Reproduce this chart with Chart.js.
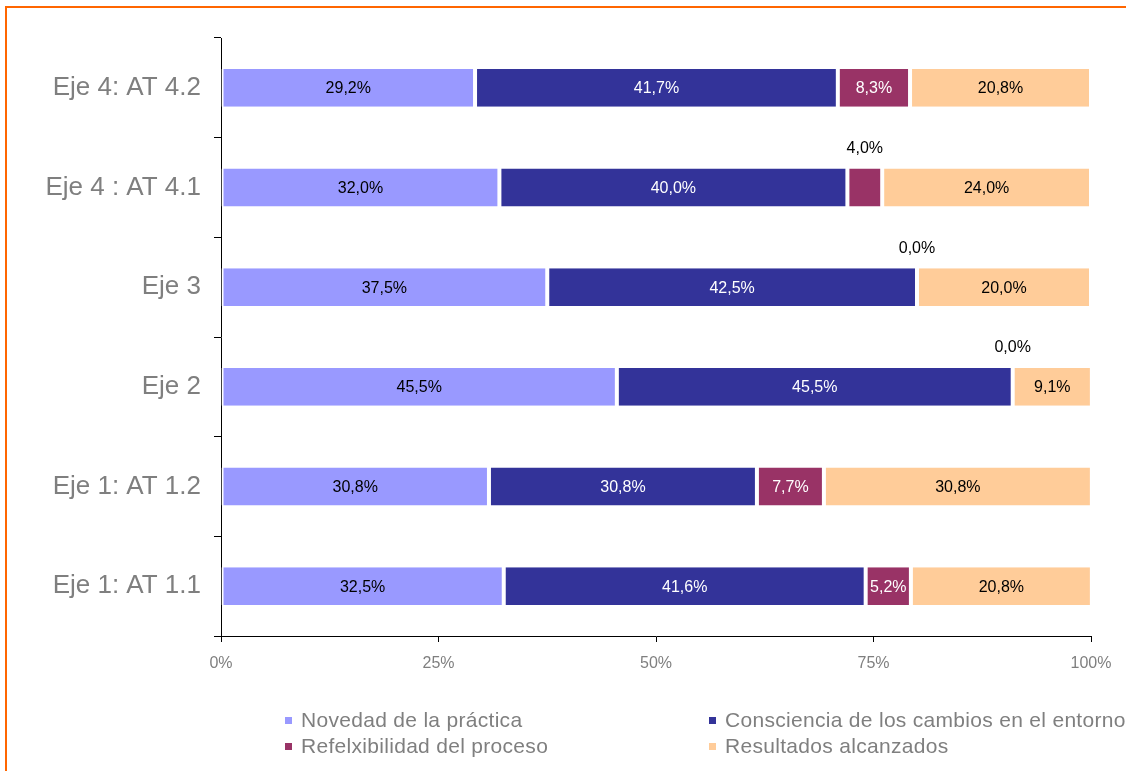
<!DOCTYPE html>
<html>
<head>
<meta charset="utf-8">
<script src="https://cdn.jsdelivr.net/npm/chart.js@4.4.1/dist/chart.umd.min.js"></script>
<style>
    body { margin: 0; background: #fff; font-family: 'Liberation Sans', Arial, sans-serif; }
    #wrap { position: relative; width: 1126px; height: 771px; overflow: hidden; }
    #frame { position: absolute; left: 5px; top: 6px; width: 1200px; height: 800px;
             border-top: 2px solid #ff6600; border-left: 2px solid #ff6600; }
    canvas { position: absolute; left: 0; top: 0; }
    .legend-item { position: absolute; font-size: 21px; letter-spacing: 0.3px; color: #7f7f7f; white-space: nowrap; line-height: 24px; }
    .legend-item span { display: inline-block; width: 7px; height: 7px; margin-right: 9px; vertical-align: 3px; }
</style>
</head>
<body>
<div id="wrap">
    <div id="frame"></div>
    <canvas id="chart" width="1126" height="771"></canvas>
    <div id="legend"></div>
</div>
<script>
const categories = ['Eje 4: AT 4.2', 'Eje 4 : AT 4.1', 'Eje 3', 'Eje 2', 'Eje 1: AT 1.2', 'Eje 1: AT 1.1'];
const seriesNames = ['Novedad de la práctica', 'Consciencia de los cambios en el entorno',
                     'Refelxibilidad del proceso', 'Resultados alcanzados'];
const novedad     = [29.2, 32.0, 37.5, 45.5, 30.8, 32.5];
const consciencia = [41.7, 40.0, 42.5, 45.5, 30.8, 41.6];
const reflexion   = [8.3, 4.0, 0.0, 0.0, 7.7, 5.2];
const resultados  = [20.8, 24.0, 20.0, 9.1, 30.8, 20.8];
const xTicks = [0, 25, 50, 75, 100];

const colors = ['#9999ff', '#333399', '#993366', '#ffcc99'];
const labelColors = ['#000', '#fff', '#fff', '#000'];
const FONT = "'Liberation Sans', Arial, sans-serif";

// etiquetas de porcentaje dentro (o encima) de cada segmento
const valueLabels = {
    id: 'valueLabels',
    afterDatasetsDraw(chart) {
        const ctx = chart.ctx;
        ctx.save();
        ctx.font = '16px ' + FONT;
        ctx.textAlign = 'center';
        ctx.textBaseline = 'middle';
        chart.data.datasets.forEach((ds, i) => {
            const meta = chart.getDatasetMeta(i);
            meta.data.forEach((bar, j) => {
                const p = bar.getProps(['x', 'y', 'base'], true);
                const text = ds.data[j].toFixed(1).replace('.', ',') + '%';
                const w = Math.abs(p.x - p.base);
                const cx = (p.x + p.base) / 2;
                if (w < 40) {
                    ctx.fillStyle = '#000';
                    ctx.fillText(text, cx, p.y - 39);
                } else {
                    ctx.fillStyle = labelColors[i];
                    ctx.fillText(text, cx, p.y + 1);
                }
            });
        });
        ctx.restore();
    }
};

const seriesData = [novedad, consciencia, reflexion, resultados];

new Chart(document.getElementById('chart'), {
    type: 'bar',
    data: {
        labels: categories,
        datasets: seriesData.map((d, i) => ({
            label: seriesNames[i],
            data: d,
            backgroundColor: colors[i],
            borderColor: '#ffffff',
            borderWidth: { left: 2, right: 2, top: 0, bottom: 0 },
            borderSkipped: false,
            barPercentage: 0.38,
            categoryPercentage: 1,
        }))
    },
    options: {
        indexAxis: 'y',
        responsive: false,
        animation: false,
        devicePixelRatio: 1,
        layout: { padding: { top: 38, right: 35, left: 0, bottom: 0 } },
        plugins: {
            legend: { display: false },
            tooltip: { enabled: false }
        },
        scales: {
            x: {
                stacked: true,
                min: 0,
                max: 100,
                afterBuildTicks: (scale) => { scale.ticks = xTicks.map(v => ({ value: v })); },
                afterFit: (scale) => { scale.height = 135; },
                ticks: {
                    callback: (v) => v + '%',
                    color: '#7f7f7f',
                    font: { family: FONT, size: 16 },
                    padding: 12
                },
                grid: { drawOnChartArea: false, tickLength: 6, color: '#000' },
                border: { color: '#000', width: 1 }
            },
            y: {
                stacked: true,
                afterFit: (scale) => { scale.width = 221; },
                ticks: {
                    color: '#7f7f7f',
                    font: { family: FONT, size: 26 },
                    padding: 13
                },
                grid: { offset: true, drawOnChartArea: false, tickLength: 7, color: '#000' },
                border: { color: '#000', width: 1 }
            }
        }
    },
    plugins: [valueLabels]
});

// leyenda en dos columnas
const legendPos = [[285, 708], [709, 708], [285, 734], [709, 734]];
document.getElementById('legend').innerHTML = seriesNames.map((name, i) =>
    `<div class="legend-item" style="left:${legendPos[i][0]}px;top:${legendPos[i][1]}px">
        <span style="background:${colors[i]}"></span>${name}
    </div>`
).join('');
</script>
</body>
</html>
